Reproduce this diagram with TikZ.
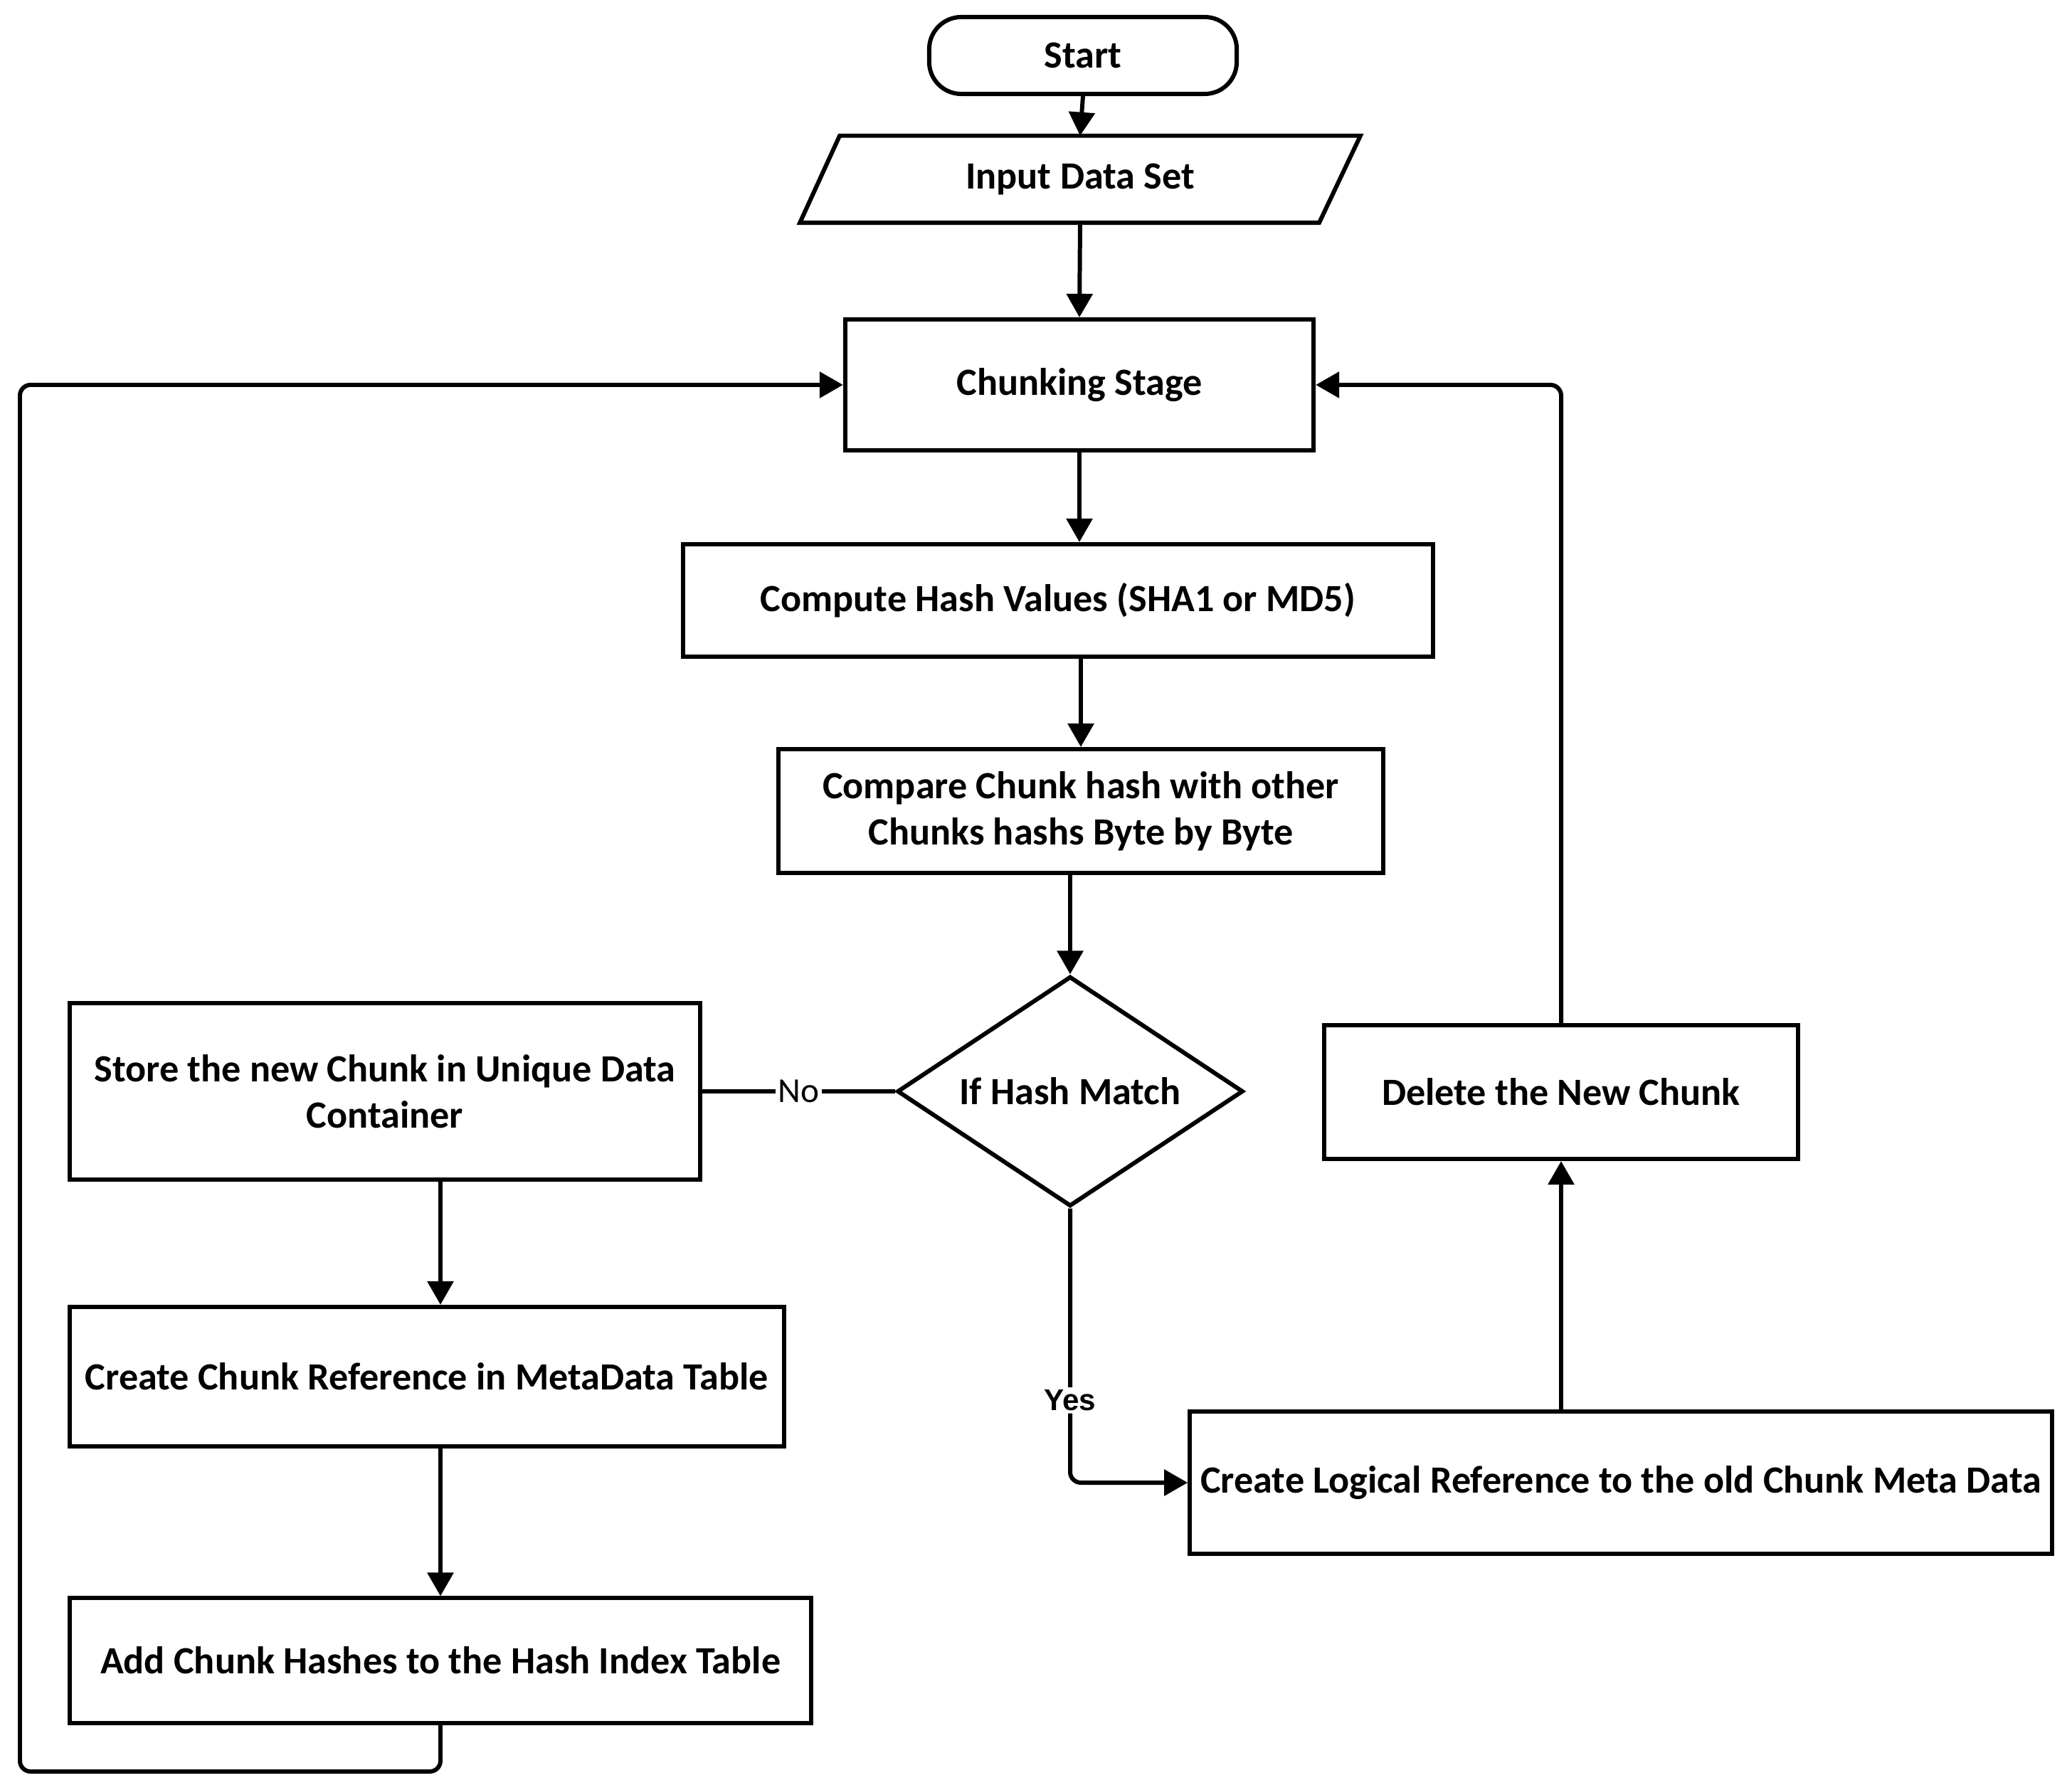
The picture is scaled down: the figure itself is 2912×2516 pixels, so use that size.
\documentclass[tikz,border=0pt]{standalone}
\usepackage{fontspec}
\setmainfont{Carlito}
\newfontfamily\yesfont{Liberation Sans}
\usetikzlibrary{shapes.geometric,arrows.meta,calc}
\begin{document}
\begin{tikzpicture}[x=0.01cm,y=-0.01cm,
  lw/.style={line width=1.7pt},
  txt/.style={font=\bfseries\fontsize{15.4}{18.5}\selectfont, align=center, inner sep=0pt},
  box/.style={txt, lw, draw, rectangle},
  term/.style={txt, lw, draw, rectangle, rounded corners=0.45cm},
  dec/.style={txt, lw, draw, diamond, aspect=1.5},
  arr/.style={lw, -{Triangle[length=0.33cm,width=0.36cm]}},
  lbl/.style={fill=white, inner sep=1pt}
]
\useasboundingbox (0,0) rectangle (2912,2516);

\node[term, minimum width=4.32cm, minimum height=1.08cm] (start) at (1522,78) {Start};
\node[txt, minimum width=7.86cm, minimum height=1.21cm] (inp) at (1518,252) {Input Data Set};
\draw[lw, line join=miter] ($(inp.north west)+(56,0)$) -- (inp.north east) -- ($(inp.south east)+(-58,0)$) -- (inp.south west) -- cycle;
\node[box, minimum width=6.58cm, minimum height=1.84cm] (chk) at (1517,541) {Chunking Stage};
\node[box, minimum width=10.53cm, minimum height=1.58cm] (cmp) at (1487,844) {Compute Hash Values (SHA1 or MD5)};
\node[box, minimum width=8.50cm, minimum height=1.74cm] (cmpr) at (1519,1140) {Compare Chunk hash with other\\Chunks hashs Byte by Byte};
\node[dec, minimum width=4.86cm, minimum height=3.23cm] (dia) at (1504,1534) {If Hash Match};
\node[box, minimum width=8.86cm, minimum height=2.47cm] (store) at (541,1534) {Store the new Chunk in Unique Data\\Container};
\node[box, minimum width=6.66cm, minimum height=1.88cm] (del) at (2194,1535) {Delete the New Chunk};
\node[box, minimum width=10.03cm, minimum height=1.96cm] (ccr) at (600,1935) {Create Chunk Reference in MetaData Table};
\node[box, minimum width=12.11cm, minimum height=1.99cm] (log) at (2278,2084) {Create Logical Reference to the old Chunk Meta Data};
\node[box, minimum width=10.42cm, minimum height=1.75cm] (add) at (619,2334) {Add Chunk Hashes to the Hash Index Table};
\coordinate (lp) at (28,2490);

\draw[arr] (start.south) -- (inp.north);
\draw[arr] (inp.south) -- (chk.north);
\draw[arr] (chk.south) -- (chk.south |- cmp.north);
\draw[arr] (cmp.south -| cmpr.north) -- (cmpr.north);
\draw[arr] (cmpr.south -| dia.north) -- (dia.north);
\draw[lw] (dia.west) -- node[lbl, font=\fontsize{14}{16}\selectfont] {No} (store.east);
\draw[arr, rounded corners=0.15cm] (dia.south) |- node[lbl, pos=0.35, font=\yesfont\bfseries\fontsize{12}{14}\selectfont] {Yes} (log.west);
\draw[arr] (del.south |- log.north) -- (del.south);
\draw[arr, rounded corners=0.15cm] (del.north) |- (chk.east);
\draw[arr] (store.south -| add.north) -- (ccr.north -| add.north);
\draw[arr] (ccr.south -| add.north) -- (add.north);
\draw[arr, rounded corners=0.15cm] (add.south) |- (lp) |- (chk.west);
\end{tikzpicture}
\end{document}
